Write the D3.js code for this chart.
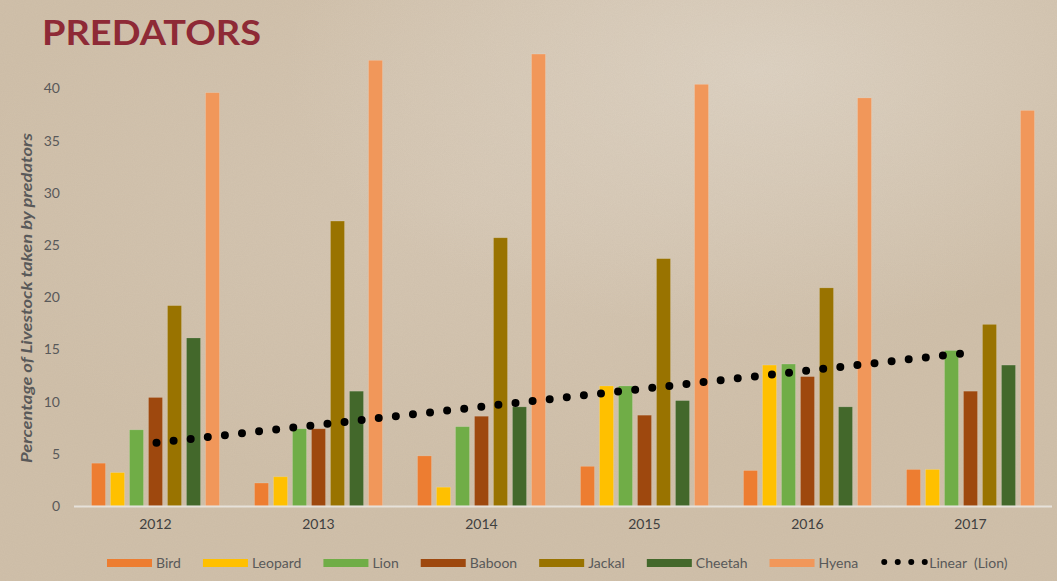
<!DOCTYPE html>
<html>
<head>
<meta charset="utf-8">
<script src="https://cdn.jsdelivr.net/npm/d3@7"></script>
<style>
  body { margin: 0; background: #d2c3ae; }
  svg { display: block; font-family: Lato, 'Open Sans', sans-serif; }
</style>
</head>
<body>
<script>
const years = ['2012', '2013', '2014', '2015', '2016', '2017'];
const predators = ['Bird', 'Leopard', 'Lion', 'Baboon', 'Jackal', 'Cheetah', 'Hyena'];
const colors = ['#ED7D31', '#FFC000', '#70AD47', '#9E480E', '#997300', '#43682B', '#F1975A'];

// percentage of livestock taken, one array per predator (2012..2017)
const bird = [4.1, 2.2, 4.8, 3.8, 3.4, 3.5];
const leopard = [3.2, 2.8, 1.8, 11.5, 13.5, 3.5];
const lion = [7.3, 7.4, 7.6, 11.5, 13.6, 14.9];
const baboon = [10.4, 7.4, 8.6, 8.7, 12.4, 11.0];
const jackal = [19.2, 27.3, 25.7, 23.7, 20.9, 17.4];
const cheetah = [16.1, 11.0, 9.5, 10.1, 9.5, 13.5];
const hyena = [39.6, 42.7, 43.3, 40.4, 39.1, 37.9];
const yTicks = [0, 5, 10, 15, 20, 25, 30, 35, 40];

const series = [bird, leopard, lion, baboon, jackal, cheetah, hyena];

const width = 1057, height = 581;

const svg = d3.select('body').append('svg')
  .attr('width', width)
  .attr('height', height);

// background with a bit of texture
const defs = svg.append('defs');
const g1 = defs.append('radialGradient').attr('id', 'glow1').attr('cx', 0.72).attr('cy', 0.12).attr('r', 0.45);
g1.append('stop').attr('offset', 0).attr('stop-color', '#e0d6c8').attr('stop-opacity', 0.8);
g1.append('stop').attr('offset', 1).attr('stop-color', '#e0d6c8').attr('stop-opacity', 0);
const g2 = defs.append('radialGradient').attr('id', 'glow2').attr('cx', 0.45).attr('cy', 0.35).attr('r', 0.5);
g2.append('stop').attr('offset', 0).attr('stop-color', '#d8cab8').attr('stop-opacity', 0.7);
g2.append('stop').attr('offset', 1).attr('stop-color', '#d8cab8').attr('stop-opacity', 0);
const noise = defs.append('filter').attr('id', 'noise');
noise.append('feTurbulence').attr('type', 'fractalNoise').attr('baseFrequency', 0.9).attr('numOctaves', 2).attr('seed', 3);
noise.append('feColorMatrix').attr('type', 'matrix')
  .attr('values', '0 0 0 0 0.4  0 0 0 0 0.33  0 0 0 0 0.25  0 0 0 0.12 0');

svg.append('rect').attr('width', width).attr('height', height).attr('fill', '#d0c0aa');
svg.append('rect').attr('width', width).attr('height', height).attr('fill', 'url(#glow2)');
svg.append('rect').attr('width', width).attr('height', height).attr('fill', 'url(#glow1)');
svg.append('rect').attr('width', width).attr('height', height).attr('filter', 'url(#noise)');

// title
svg.append('text')
  .attr('x', 42)
  .attr('y', 45)
  .attr('font-size', 34)
  .attr('font-weight', 'bold')
  .attr('fill', '#8e2a36')
  .attr('textLength', 219)
  .attr('lengthAdjust', 'spacingAndGlyphs')
  .text('PREDATORS');

const x0 = d3.scaleBand().domain(years).range([74, 1052]);
const x1 = d3.scaleBand().domain(predators).range([17.5, 145.5]).paddingInner(5 / 19);
const y = d3.scaleLinear().domain([0, 40]).range([506, 88.5]);
const color = d3.scaleOrdinal().domain(predators).range(colors);

// y tick labels
svg.append('g')
  .selectAll('text')
  .data(yTicks)
  .join('text')
  .attr('x', 60)
  .attr('y', d => y(d))
  .attr('dy', '0.35em')
  .attr('text-anchor', 'end')
  .attr('font-size', 14)
  .attr('fill', '#595959')
  .text(d => d);

svg.append('text')
  .attr('transform', 'translate(32,298) rotate(-90)')
  .attr('text-anchor', 'middle')
  .attr('font-size', 16)
  .attr('font-weight', 'bold')
  .attr('font-style', 'italic')
  .attr('fill', '#595959')
  .attr('textLength', 330)
  .attr('lengthAdjust', 'spacingAndGlyphs')
  .text('Percentage of Livestock taken by predators');

// bars
const groups = svg.append('g')
  .selectAll('g')
  .data(years)
  .join('g')
  .attr('transform', d => `translate(${x0(d)},0)`);

groups.selectAll('rect')
  .data((d, i) => predators.map((p, j) => ({ p, v: series[j][i] })))
  .join('rect')
  .attr('x', d => x1(d.p))
  .attr('width', x1.bandwidth())
  .attr('y', d => y(d.v))
  .attr('height', d => y(0) - y(d.v))
  .attr('fill', d => color(d.p))
  .attr('stroke', 'rgba(255,255,255,0.18)')
  .attr('stroke-width', 0.8);

// baseline
svg.append('line')
  .attr('x1', 74).attr('x2', 1052)
  .attr('y1', y(0) + 0.5).attr('y2', y(0) + 0.5)
  .attr('stroke', '#e6e1da')
  .attr('stroke-width', 2);

// x labels
svg.append('g')
  .selectAll('text')
  .data(years)
  .join('text')
  .attr('x', d => x0(d) + x0.bandwidth() / 2)
  .attr('y', 529)
  .attr('text-anchor', 'middle')
  .attr('font-size', 14)
  .attr('fill', '#404040')
  .text(d => d);

// linear trend of lion
const xs = lion.map((d, i) => i + 1);
const mx = d3.mean(xs), my = d3.mean(lion);
const slope = d3.sum(xs, (xv, i) => (xv - mx) * (lion[i] - my)) / d3.sum(xs, xv => (xv - mx) ** 2);
const icpt = my - slope * mx;
const cx = d => x0(d) + x0.bandwidth() / 2;

svg.append('line')
  .attr('x1', cx(years[0]) + 1)
  .attr('y1', y(icpt + slope * 1))
  .attr('x2', cx(years[years.length - 1]))
  .attr('y2', y(icpt + slope * years.length))
  .attr('stroke', '#000')
  .attr('stroke-width', 8)
  .attr('stroke-linecap', 'round')
  .attr('stroke-dasharray', '0 17.2');

// legend
const legendItems = predators.map(p => ({ label: p, type: 'bar' }))
  .concat([{ label: 'Linear  (Lion)', type: 'trend' }]);

const legend = svg.append('g').attr('transform', 'translate(0,563)');
let pos = 0;
const entries = [];
legendItems.forEach(item => {
  const g = legend.append('g');
  if (item.type === 'bar') {
    g.append('rect').attr('x', 0).attr('y', -4).attr('width', 45).attr('height', 8)
      .attr('fill', color(item.label));
  } else {
    g.append('line').attr('x1', 4).attr('x2', 45).attr('y1', -1).attr('y2', -1)
      .attr('stroke', '#000').attr('stroke-width', 6)
      .attr('stroke-linecap', 'round').attr('stroke-dasharray', '0 13.5');
  }
  const t = g.append('text')
    .attr('x', 49)
    .attr('y', 5)
    .attr('font-size', 14)
    .attr('fill', '#595959')
    .attr('xml:space', 'preserve')
    .style('white-space', 'pre')
    .text(item.label);
  const w = 49 + t.node().getComputedTextLength();
  entries.push({ g, start: pos });
  pos += w + 22;
});
const total = pos - 22;
const startX = 107;
entries.forEach(e => e.g.attr('transform', `translate(${startX + e.start},0)`));
</script>
</body>
</html>
